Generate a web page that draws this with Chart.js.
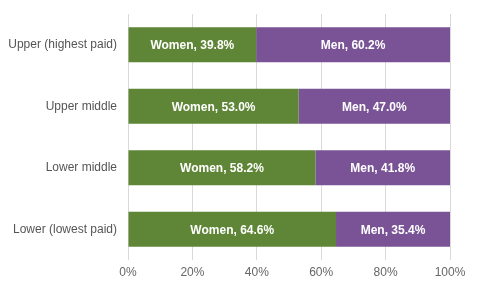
<!DOCTYPE html>
<html>
<head>
<meta charset="utf-8">
<script src="https://cdn.jsdelivr.net/npm/chart.js@4"></script>
<style>
  html, body { margin: 0; padding: 0; background: #fff; }
  #wrap { width: 480px; height: 289px; }
</style>
</head>
<body>
<div id="wrap"><canvas id="pay"></canvas></div>
<script>
const categories = ['Upper (highest paid)', 'Upper middle', 'Lower middle', 'Lower (lowest paid)'];
const women = [39.8, 53.0, 58.2, 64.6];
const men = [60.2, 47.0, 41.8, 35.4];
const xTicks = [0, 20, 40, 60, 80, 100];

// writes "Women, 39.8%" in the middle of each bar
const barLabels = {
  id: 'barLabels',
  afterDatasetsDraw(chart) {
    const c = chart.ctx;
    c.save();
    c.font = 'bold 12px "Liberation Sans", Arial, sans-serif';
    c.fillStyle = '#fff';
    c.textAlign = 'center';
    c.textBaseline = 'middle';
    chart.data.datasets.forEach((ds, i) => {
      chart.getDatasetMeta(i).data.forEach((bar, j) => {
        const p = bar.getProps(['x', 'y', 'base'], true);
        c.fillText(ds.label + ', ' + ds.data[j].toFixed(1) + '%', (p.x + p.base) / 2, p.y + 1);
      });
    });
    c.restore();
  }
};

new Chart(document.getElementById('pay'), {
  type: 'bar',
  data: {
    labels: categories,
    datasets: [
      { label: 'Women', data: women, backgroundColor: '#5e8636' },
      { label: 'Men', data: men, backgroundColor: '#795396' }
    ]
  },
  options: {
    indexAxis: 'y',
    responsive: true,
    maintainAspectRatio: false,
    animation: false,
    layout: { padding: { top: 14, right: 30, left: 0, bottom: 0 } },
    datasets: { bar: { barPercentage: 0.57, categoryPercentage: 1 } },
    plugins: { legend: { display: false }, tooltip: { enabled: false } },
    scales: {
      x: {
        stacked: true,
        min: 0,
        max: 100,
        afterBuildTicks: axis => { axis.ticks = xTicks.map(v => ({ value: v })); },
        afterFit: axis => { axis.height = 29; },
        border: { display: false },
        grid: { color: '#d9d9d9', lineWidth: 1, drawTicks: false },
        ticks: {
          padding: 5,
          color: '#666',
          font: { family: '"Liberation Sans", Arial, sans-serif', size: 12 },
          callback: v => v + '%'
        }
      },
      y: {
        stacked: true,
        afterFit: axis => { axis.width = 128; },
        border: { display: false },
        grid: { display: false },
        ticks: {
          padding: 3,
          color: '#555',
          font: { family: '"Liberation Sans", Arial, sans-serif', size: 12 }
        }
      }
    }
  },
  plugins: [barLabels]
});
</script>
</body>
</html>
